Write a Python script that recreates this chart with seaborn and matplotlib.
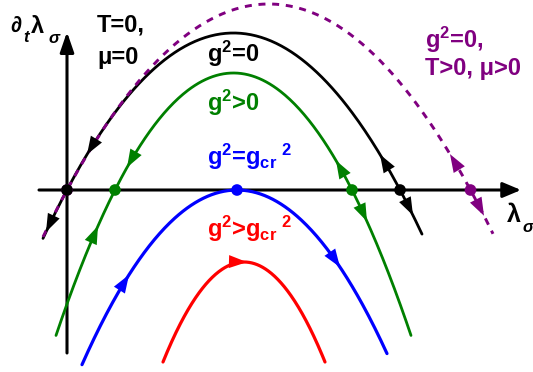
import numpy as np
import pandas as pd
import matplotlib
matplotlib.use("Agg")
import matplotlib.pyplot as plt
import seaborn as sns
from matplotlib.patches import FancyArrowPatch

# Flow curves of the coupling: y = top - curv * (x - centre)^2
curve_names = ["g2=0", "g2>0", "g2=gcr2", "g2>gcr2", "g2=0,T>0"]
curve_colors = ["black", "#008000", "#0000ff", "#ff0000", "#800080"]
centres = [1.665, 1.665, 1.70, 1.77, 2.0175]
tops = [1.57, 1.17, 0.0, -0.72, 1.86]
curvs = [0.566, 0.833, 0.727, 1.524, 0.457]
x_starts = [-0.24, -0.11, 0.15, 0.96, -0.24]
x_ends = [3.55, 3.44, 3.20, 2.58, 4.26]

# Flow-direction heads: (curve index, x of tip, +1 = towards larger x)
arrow_curve = [0, 0, 1, 1, 1, 1, 0, 0, 4, 4, 2, 2, 3]
arrow_x = [0.20, -0.21, 0.60, 0.31, 2.69, 3.00, 3.13, 3.46, 3.83, 4.17, 0.62, 2.73, 1.80]
arrow_dir = [-1, -1, -1, 1, -1, 1, -1, 1, -1, 1, 1, 1, 1]


def flow(i, x):
    return tops[i] - curvs[i] * (x - centres[i]) ** 2


sns.set_theme(style="white")
plt.rcParams["font.family"] = ["Liberation Sans", "DejaVu Sans"]
plt.rcParams["mathtext.fontset"] = "custom"
plt.rcParams["mathtext.rm"] = "Liberation Sans:bold"
plt.rcParams["mathtext.bf"] = "Liberation Sans:bold"
plt.rcParams["mathtext.it"] = "Liberation Sans:bold:italic"
plt.rcParams["mathtext.sf"] = "Liberation Sans:bold"

fig = plt.figure(figsize=(5.33, 3.72), dpi=100)
ax = fig.add_axes([0, 0, 1, 1])
ax.set_xlim(-0.67, 4.66)
ax.set_ylim(-1.82, 1.90)
ax.axis("off")

# coordinate axes with arrow heads
ax.add_patch(FancyArrowPatch((-0.28, 0), (4.54, 0), arrowstyle="-|>,head_length=1.0,head_width=0.42",
                             mutation_scale=11, color="black", lw=2.2, shrinkA=0, shrinkB=0, zorder=1))
ax.add_patch(FancyArrowPatch((0, -1.63), (0, 1.58), arrowstyle="-|>,head_length=1.1,head_width=0.38",
                             mutation_scale=11, color="black", lw=2.2, shrinkA=0, shrinkB=0, zorder=1))

# curves
frames = []
for i, name in enumerate(curve_names):
    xs = np.linspace(x_starts[i], x_ends[i], 300)
    frames.append(pd.DataFrame({"x": xs, "y": flow(i, xs), "curve": name}))
data = pd.concat(frames, ignore_index=True)

draw_order = [0, 4, 1, 2, 3]
for i in draw_order:
    sub = data[data["curve"] == curve_names[i]]
    if i == 4:
        sns.lineplot(data=sub, x="x", y="y", sort=False, ax=ax, color=curve_colors[i],
                     lw=2.1, dashes=False, zorder=3).lines[-1].set_dashes((2.4, 2.3))
    else:
        sns.lineplot(data=sub, x="x", y="y", sort=False, ax=ax, color=curve_colors[i],
                     lw=2.0 if i < 2 else 2.3, zorder=2)

# flow arrow heads
for ci, xt, d in zip(arrow_curve, arrow_x, arrow_dir):
    xa = xt - d * 0.04
    ax.add_patch(FancyArrowPatch((xa, flow(ci, xa)), (xt, flow(ci, xt)),
                                 arrowstyle="-|>,head_length=1.0,head_width=0.36",
                                 mutation_scale=13, color=curve_colors[ci], lw=0,
                                 shrinkA=0, shrinkB=0, zorder=5))

# fixed points (zeros of the flow)
fp_x, fp_c = [], []
for i in range(len(curve_names)):
    if tops[i] > 0:
        r = np.sqrt(tops[i] / curvs[i])
        fp_x += [centres[i] - r, centres[i] + r]
        fp_c += [curve_colors[i]] * 2
    elif tops[i] == 0:
        fp_x.append(centres[i])
        fp_c.append(curve_colors[i])
fp = pd.DataFrame({"x": fp_x, "y": 0.0, "c": fp_c})
fp = fp.iloc[::-1]
sns.scatterplot(data=fp, x="x", y="y", hue="c", palette={c: c for c in set(fp_c)},
                s=70, edgecolor="none", legend=False, ax=ax, zorder=6)

# labels
bold = dict(fontweight="bold", fontsize=17)
ax.text(0.30, 1.58, "T=0,", color="black", **bold)
ax.text(0.30, 1.26, "μ=0", color="black", **bold)
ax.text(1.40, 1.28, "g$^2$=0", color="black", **bold)
ax.text(1.40, 0.79, "g$^2$>0", color="#008000", **bold)
ax.text(1.40, 0.25, "g$^2$=g$_{\\mathrm{cr}}$$^{\\ 2}$", color="#0000ff", **bold)
ax.text(1.40, -0.47, "g$^2$>g$_{\\mathrm{cr}}$$^{\\ 2}$", color="#ff0000", **bold)
ax.text(3.58, 1.42, "g$^2$=0,", color="#800080", **bold)
ax.text(3.58, 1.15, "T>0, μ>0", color="#800080", **bold)

# axis titles
ax.text(4.40, -0.32, "λ", color="black", fontsize=18, fontweight="bold")
ax.text(4.55, -0.42, "σ", color="black", fontsize=12, fontweight="bold", fontstyle="italic")
ax.text(-0.57, 1.58, "∂", color="black", fontsize=16, fontweight="bold", fontstyle="italic")
ax.text(-0.44, 1.48, "t", color="black", fontsize=12, fontweight="bold", fontstyle="italic")
ax.text(-0.36, 1.57, "λ", color="black", fontsize=17, fontweight="bold")
ax.text(-0.19, 1.47, "σ", color="black", fontsize=12, fontweight="bold", fontstyle="italic")

fig.savefig("out.png", dpi=100)
